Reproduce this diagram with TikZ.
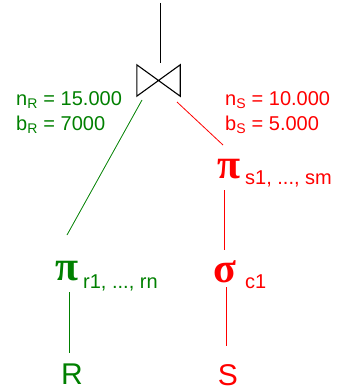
\documentclass[tikz,border=0pt]{standalone}
\usepackage{fontspec}
\setmainfont{Liberation Sans}
\newfontfamily\greekfont{Liberation Serif}
\usepackage{tikz}
\usetikzlibrary{positioning,calc}
\definecolor{relgreen}{RGB}{0,128,0}
\definecolor{relred}{RGB}{255,0,0}
\tikzset{op/.style={inner sep=0pt,anchor=base,text depth=0pt,font=\greekfont\bfseries\fontsize{42}{42}\selectfont},rel/.style={inner sep=0pt,anchor=base,text depth=0pt,font=\fontsize{30}{30}\selectfont},sub/.style={inner sep=0pt,anchor=base west,font=\fontsize{20}{20}\selectfont},stat/.style={inner sep=0pt,align=left,anchor=north west,font=\fontsize{20}{25}\selectfont}}
\begin{document}
\begin{tikzpicture}[x=1pt,y=-1pt,edge/.style={line width=0.8pt}]
\useasboundingbox (0,0) rectangle (337,390);
\coordinate (top) at (160,3);
\node[minimum width=43pt,minimum height=31pt,inner sep=0pt] (join) at (158.5,80.5) {};
\draw[line width=1.1pt] (join.north west)--(join.south east)--(join.north east)--(join.south west)--cycle;
\draw[edge] (top)--($(join)+(1.5,-17.5)$);
% right branch
\node[op,text=relred] (piS) at (229,178) {π};
\node[sub,text=relred] (piSsub) at (245,184) {s1, ..., sm};
\node[op,text=relred] (sigS) at (225,282) {σ};
\node[sub,text=relred] (sigSsub) at (245,288) {c1};
\node[rel,text=relred] (S) at (228,385) {S};
\draw[edge,relred] ($(join)+(18.5,21.5)$)--($(piS.base)+(-6,-33)$);
\draw[edge,relred] ($(piS.base)+(-5,12)$)--($(sigS.base)+(-1,-32)$);
\draw[edge,relred] ($(sigS.base)+(1,5)$)--($(S.base)+(-2,-39)$);
% left branch
\node[op,text=relgreen] (piR) at (67,280) {π};
\node[sub,text=relgreen] (piRsub) at (83,288) {r1, ..., rn};
\node[rel,text=relgreen] (R) at (72,384) {R};
\draw[edge,relgreen] ($(join)+(-16.5,19.5)$)--($(piR.base)+(0,-45)$);
\draw[edge,relgreen] ($(piR.base)+(2,12)$)--($(R.base)+(-3,-31)$);
% statistics
\node[stat,text=relgreen] (statR) at (16,91) {n\textsubscript{R} = 15.000\\b\textsubscript{R} = 7000};
\node[stat,text=relred] (statS) at (225,91) {n\textsubscript{S} = 10.000\\b\textsubscript{S} = 5.000};
\end{tikzpicture}
\end{document}
